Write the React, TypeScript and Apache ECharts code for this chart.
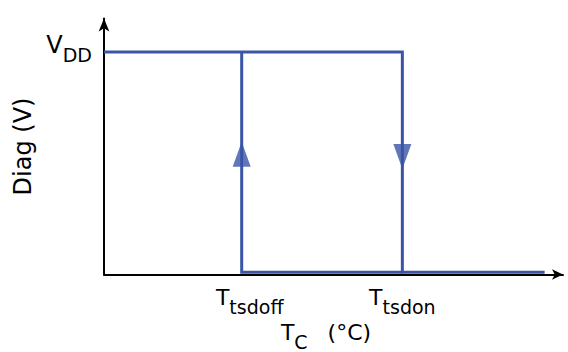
import React, { useEffect, useRef } from "react";
import * as echarts from "echarts";

// ---- data ----
const xMin = 0;
const xMax = 10;
const yMin = 0;
const yMax = 1.15;
const vddLevel = 1;
const lowLevel = 0.01;
const tOff = 3;
const tOn = 6.5;
const xEnd = 9.6;

const xTickValues = [tOff, tOn];
const xTickMain = ["T", "T"];
const xTickSub = ["tsdoff", "tsdon"];
const yTickValues = [vddLevel];
const yTickMain = ["V"];
const yTickSub = ["DD"];
const xNameMain = "T";
const xNameSub = "C";
const xNameUnit = "(°C)";
const yName = "Diag (V)";

// falling edge path: VDD until Ttsdon, drops, continues low
const pathOn: number[][] = [
  [xMin, vddLevel],
  [tOn, vddLevel],
  [tOn, lowLevel],
  [xEnd, lowLevel],
];
// rising edge path: at Ttsdoff returns to VDD
const pathOff: number[][] = [
  [tOff, vddLevel],
  [tOff, lowLevel],
  [tOn, lowLevel],
];
// direction arrows on the vertical edges
const arrowX = [tOff, tOn];
const arrowY = [0.54, 0.53];
const arrowDir = ["up", "down"];

const BLUE = "#3a54a6";
const FONT = "DejaVu Sans";

export default function App() {
  const ref = useRef<HTMLDivElement>(null);

  useEffect(() => {
    if (!ref.current) return;
    const chart = echarts.init(ref.current, null, { renderer: "svg" });

    const base = { fontFamily: FONT, color: "#000" };
    const richX = {
      m: { ...base, fontSize: 22, lineHeight: 22, verticalAlign: "top" },
      m0: { ...base, fontSize: 22, lineHeight: 22, verticalAlign: "top", padding: [0, 0, 0, 16] },
      s: { ...base, fontSize: 19, lineHeight: 30, verticalAlign: "bottom" },
      u: { ...base, fontSize: 22, lineHeight: 22, verticalAlign: "top", padding: [0, 15, 0, 20] },
    };

    const option: any = {
      animation: false,
      grid: {
        left: 104,
        right: 5,
        top: 18.5,
        bottom: 77.5,
        containLabel: false,
        outerBoundsMode: "none",
      },
      xAxis: {
        type: "value",
        min: xMin,
        max: xMax,
        splitLine: { show: false },
        axisTick: { show: false },
        axisLine: {
          show: true,
          lineStyle: { color: "#000", width: 2 },
          symbol: ["none", "arrow"],
          symbolSize: [8, 11],
        },
        axisLabel: {
          customValues: xTickValues,
          margin: 12,
          formatter: (v: number) => {
            const i = xTickValues.indexOf(v);
            if (i < 0) return "";
            return `{${i === 0 ? "m0" : "m"}|${xTickMain[i]}}{s|${xTickSub[i]}}`;
          },
          rich: richX,
        },
        name: `{m|${xNameMain}}{s|${xNameSub}}{u|${xNameUnit}}`,
        nameLocation: "middle",
        nameGap: 46,
        nameTextStyle: { rich: richX },
      },
      yAxis: {
        type: "value",
        min: yMin,
        max: yMax,
        splitLine: { show: false },
        axisTick: { show: false },
        axisLine: {
          show: true,
          lineStyle: { color: "#000", width: 2 },
          symbol: ["none", "arrow"],
          symbolSize: [8, 13],
        },
        axisLabel: {
          customValues: yTickValues,
          margin: 12,
          padding: [0, 0, 6, 0],
          formatter: (v: number) => {
            const i = yTickValues.indexOf(v);
            if (i < 0) return "";
            return `{m|${yTickMain[i]}}{s|${yTickSub[i]}}`;
          },
          rich: {
            m: { ...base, fontSize: 24, lineHeight: 24, verticalAlign: "top" },
            s: { ...base, fontSize: 19, lineHeight: 31, verticalAlign: "bottom" },
          },
        },
        name: yName,
        nameLocation: "middle",
        nameRotate: 90,
        nameGap: 63,
        nameTextStyle: { fontFamily: FONT, fontSize: 24, color: "#000" },
      },
      series: [
        {
          type: "line",
          data: pathOn,
          showSymbol: false,
          symbol: "none",
          lineStyle: { color: BLUE, width: 3, join: "miter", cap: "butt" },
          z: 3,
        },
        {
          type: "line",
          data: pathOff,
          showSymbol: false,
          symbol: "none",
          lineStyle: { color: BLUE, width: 3, join: "miter", cap: "butt" },
          z: 3,
        },
        {
          type: "scatter",
          data: arrowX.map((x, i) => ({
            value: [x, arrowY[i]],
            symbolRotate: arrowDir[i] === "down" ? 180 : 0,
          })),
          symbol: "triangle",
          symbolSize: [18, 25],
          itemStyle: { color: BLUE },
          z: 4,
        },
      ],
    };

    chart.setOption(option);
    return () => chart.dispose();
  }, []);

  return (
    <div
      ref={ref}
      style={{ position: "absolute", left: 0, top: 0, width: 568, height: 352, background: "#fff" }}
    />
  );
}
